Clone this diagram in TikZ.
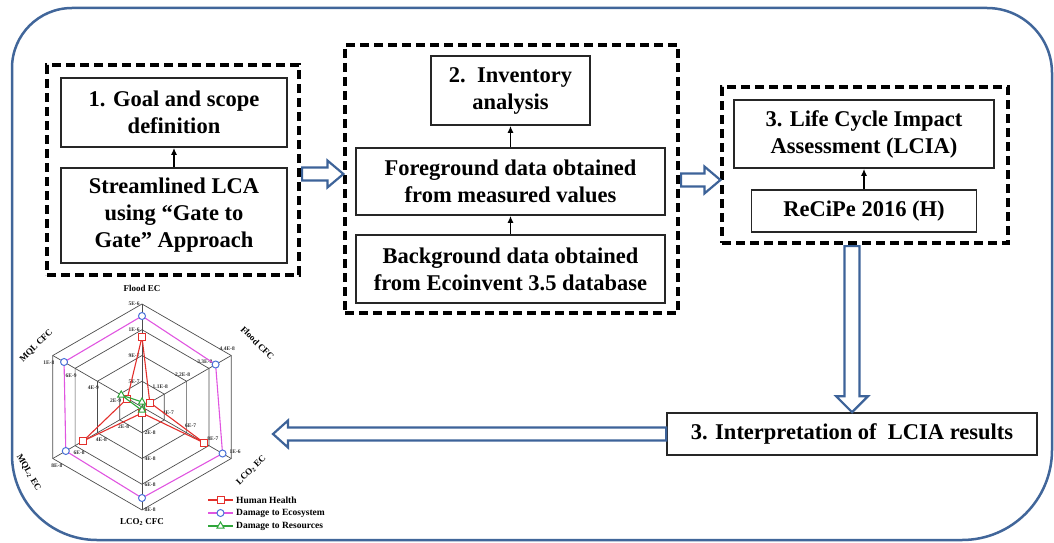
\documentclass[tikz,border=0pt]{standalone}
\usepackage{fontspec}
\setmainfont{Liberation Serif}
\usetikzlibrary{calc,arrows.meta,positioning,shapes.geometric}

\definecolor{framecol}{HTML}{41669A}
\definecolor{arrcol}{HTML}{3D6399}
\definecolor{hhred}{HTML}{E3302C}
\definecolor{ecomag}{HTML}{E055E0}
\definecolor{ecoblue}{HTML}{4A72D8}
\definecolor{resgreen}{HTML}{2FA63A}

\begin{document}
\begin{tikzpicture}[x=1pt,y=-1pt,
		stage/.style={draw=black!85, line width=1.6pt, fill=white, align=center, inner sep=2pt,
			font=\bfseries\fontsize{22.5}{27}\selectfont},
		group/.style={draw, line width=3.2pt, dash pattern=on 9pt off 5pt},
		link/.style={line width=1.6pt, -{Latex[length=7pt,width=6pt]}},
		hollow/.style={draw=arrcol, line width=2.2pt, fill=white, line join=miter},
		grid/.style={draw=black!70, line width=0.7pt},
		hhmark/.style={draw=hhred, fill=white, line width=1pt, rectangle, minimum size=7pt, inner sep=0pt},
		ecomark/.style={draw=ecoblue, fill=white, line width=1pt, circle, minimum size=7pt, inner sep=0pt},
		resmark/.style={draw=resgreen, fill=white, line width=1pt, regular polygon, regular polygon sides=3,
			minimum size=8pt, inner sep=0pt},
		axlab/.style={font=\bfseries\fontsize{9}{10}\selectfont, inner sep=1pt},
		tick/.style={font=\bfseries\fontsize{5.5}{6}\selectfont, inner sep=0pt, text=black!80},
		leg/.style={font=\bfseries\fontsize{9.5}{10}\selectfont, inner sep=1pt}]
	\useasboundingbox (0,0) rectangle (1054,543);

	% outer frame
	\draw[framecol, line width=2.5pt] (12,300) [rounded corners=60pt] -- (12,8) -- (540,8)
		[rounded corners=65pt] -- (1052,8) -- (1052,300)
		[rounded corners=90pt] -- (1052,540) -- (540,540)
		[rounded corners=85pt] -- (12,540) -- cycle;

	% dashed stage groups
	\node[group, minimum width=252pt, minimum height=210pt] (g1) at (173,170) {};
	\node[group, minimum width=333pt, minimum height=268pt] (g2) at (511.5,179) {};
	\node[group, minimum width=286pt, minimum height=156pt] (g3) at (865,165) {};

	% Place nodes
	\node[stage, minimum width=226pt, minimum height=69pt] (goal) at (174,112.5) {1. Goal and scope\\definition};
	\node[stage, minimum width=226pt, minimum height=95pt] (slca) at (174,215.5) {Streamlined LCA\\using ``Gate to\\Gate'' Approach};

	\node[stage, minimum width=159pt, minimum height=69pt] (inv) at (510.5,90.5) {2.\ \ Inventory\\analysis};
	\node[stage, minimum width=309pt, minimum height=67pt] (fg) at (510.5,181.5) {Foreground data obtained\\from measured values};
	\node[stage, minimum width=309pt, minimum height=68pt] (bg) at (510.5,269) {Background data obtained\\from Ecoinvent 3.5 database};

	\node[stage, minimum width=260pt, minimum height=68pt] (lcia) at (864,134) {3. Life Cycle Impact\\Assessment (LCIA)};
	\node[stage, minimum width=225pt, minimum height=42pt] (recipe) at (864,211) {ReCiPe 2016 (H)};

	\node[stage, minimum width=370pt, minimum height=42pt] (interp) at (852,434) {3. Interpretation of\ \ LCIA results};

	% Draw edges
	\draw[link] (slca) -- (goal);
	\draw[link] (fg) -- (inv);
	\draw[link] (bg) -- (fg);
	\draw[link] (recipe) -- (lcia);

	% hollow block arrows
	\coordinate (a1s) at ($(g1.east)+(1.5,4)$);
	\coordinate (a1t) at ($(g2.west)+(0,-5)$);
	\draw[hollow] ($(a1s)+(0,-6.5)$) -- ($(a1t)+(-16,-6.5)$) -- ($(a1t)+(-16,-13.5)$) -- (a1t)
		-- ($(a1t)+(-16,13.5)$) -- ($(a1t)+(-16,6.5)$) -- ($(a1s)+(0,6.5)$) -- cycle;

	\coordinate (a2s) at ($(g2.east)+(1.5,1)$);
	\coordinate (a2t) at ($(g3.west)+(0,15)$);
	\draw[hollow] ($(a2s)+(0,-6.5)$) -- ($(a2t)+(-16,-6.5)$) -- ($(a2t)+(-16,-13.5)$) -- (a2t)
		-- ($(a2t)+(-16,13.5)$) -- ($(a2t)+(-16,6.5)$) -- ($(a2s)+(0,6.5)$) -- cycle;

	\coordinate (a3s) at ($(g3.south -| interp.north)+(0,1.5)$);
	\coordinate (a3t) at (interp.north);
	\draw[hollow] ($(a3s)+(-7.5,0)$) -- ($(a3t)+(-7.5,-16)$) -- ($(a3t)+(-16,-16)$) -- (a3t)
		-- ($(a3t)+(16,-16)$) -- ($(a3t)+(7.5,-16)$) -- ($(a3s)+(7.5,0)$) -- cycle;

	\coordinate (a4s) at (interp.west);
	\coordinate (chart) at (273,434);
	\draw[hollow] ($(a4s)+(0,-6.5)$) -- ($(chart)+(15,-6.5)$) -- ($(chart)+(15,-13.5)$) -- (chart)
		-- ($(chart)+(15,13.5)$) -- ($(chart)+(15,6.5)$) -- ($(a4s)+(0,6.5)$) -- cycle;

	% radar chart of the LCIA results
	\begin{scope}[shift={(142,407)}, yscale=-1]
		\foreach \r in {25.75,51.5,77.25,103}
			\draw[grid] (90:\r) -- (30:\r) -- (-30:\r) -- (-90:\r) -- (-150:\r) -- (150:\r) -- cycle;
		\foreach \a in {90,30,-30,-90,-150,150}
			\draw[grid] (0,0) -- (\a:103);

		% tick values along each axis
		\foreach \a/\la/\lb/\lc/\ld [count=\k] in {90/5E-7/9E-7/1E-6/5E-6, 30/1.1E-8/2.2E-8/3.3E-8/4.4E-8,
				-30/4E-7/6E-7/8E-7/1E-6, -90/2E-8/4E-8/6E-8/8E-8, -150/2E-8/4E-8/6E-8/8E-8, 150/2E-9/4E-9/6E-9/1E-8}
		{
			\node[tick] (tk\k a) at ($(\a:25.75)+(\a+90:8)$) {\la};
			\node[tick] (tk\k b) at ($(\a:51.5)+(\a+90:8)$) {\lb};
			\node[tick] (tk\k c) at ($(\a:77.25)+(\a+90:8)$) {\lc};
			\node[tick] (tk\k d) at ($(\a:103)+(\a+90:8)$) {\ld};
		}

		% damage to ecosystem
		\draw[ecomag, line width=1.1pt] (90:91) -- (30:85) -- (-30:93) -- (-90:91) -- (-150:88) -- (150:90) -- cycle;
		\foreach \a/\r [count=\i] in {90/91, 30/85, -30/93, -90/91, -150/88, 150/90}
			\node[ecomark] (eco\i) at (\a:\r) {};

		% human health
		\draw[hhred, line width=1.1pt] (90:70) -- (30:9) -- (-30:72) -- (-90:6) -- (-150:68) -- (150:17) -- cycle;
		\foreach \a/\r [count=\i] in {90/70, 30/9, -30/72, -90/6, -150/68, 150/17}
			\node[hhmark] (hh\i) at (\a:\r) {};

		% damage to resources
		\draw[resgreen, line width=1.1pt] (90:5) -- (30:3) -- (-30:3) -- (-90:3) -- (-150:3) -- (150:24) -- cycle;
		\foreach \a/\r [count=\i] in {90/5, -90/3, 150/24}
			\node[resmark] (res\i) at (\a:\r) {};

		% axis names
		\node[axlab] (axfe) at (90:119) {Flood EC};
		\node[axlab, rotate=-45] (axfc) at (29:132) {Flood CFC};
		\node[axlab, rotate=45] (axle) at (-30:126) {LCO\textsubscript{2} EC};
		\node[axlab] (axlc) at (-90:115) {LCO\textsubscript{2} CFC};
		\node[axlab, rotate=-60] (axme) at (-150:131) {MQL\textsubscript{2} EC};
		\node[axlab, rotate=45] (axmc) at (150:122) {MQL CFC};
	\end{scope}

	% legend
	\foreach \y/\st/\col/\txt [count=\i] in {500/hhmark/hhred/Human Health, 513/ecomark/ecomag/Damage to Ecosystem,
			526/resmark/resgreen/Damage to Resources}
	{
		\draw[\col, line width=1.1pt] (208,\y) -- (233,\y);
		\node[\st] (lm\i) at (220.5,\y) {};
		\node[leg, anchor=west] (lt\i) at (235,\y) {\txt};
	}
\end{tikzpicture}
\end{document}
